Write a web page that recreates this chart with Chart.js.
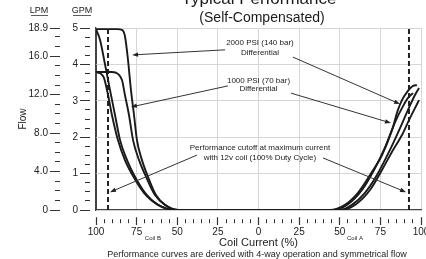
<!DOCTYPE html>
<html lang="en">
<head>
<meta charset="UTF-8">
<title>Typical Performance (Self-Compensated)</title>
<style>
  html, body { margin: 0; padding: 0; background: #ffffff; }
  #wrap { width: 426px; height: 259px; position: relative; }
</style>
</head>
<body>
<div id="wrap"><canvas id="flowChart" width="426" height="259"></canvas></div>

<script src="https://cdn.jsdelivr.net/npm/chart.js@4.4.0/dist/chart.umd.min.js"></script>
<script>
  // Coil current axis: -100 = 100% on Coil B, +100 = 100% on Coil A
  const xTickValues = [-100, -75, -50, -25, 0, 25, 50, 75, 100];
  const lpmLabelValues = [0, 4, 8, 12, 16, 18.9];
  const GPM_MAX = 5;
  const LPM_MAX = 18.93;   // 5 GPM in litres/min

  // 2000 PSI (140 bar) differential, two branches of the loop
  const psi2000aPct  = [-100, -86.8, -84.0, -82.2, -80.3, -78.5, -76.6, -74.8, -71.7, -68.0, -63.1, -57.5, -49.5,
                        44.0, 53.2, 61.2, 68.6, 76.0, 82.2, 85.8, 88.3, 91.4, 95.1, 97.5];
  const psi2000aFlow = [4.97, 4.97, 4.95, 4.78, 4.12, 3.30, 2.61, 1.92, 1.37, 0.91, 0.41, 0.14, 0,
                        0, 0.14, 0.47, 0.96, 1.51, 2.20, 2.75, 3.02, 3.24, 3.41, 3.43];
  const psi2000bPct  = [-100, -97.5, -94.5, -91.4, -88.3, -85.2, -80.9, -76.6, -69.8, -61.8, -51.4,
                        50.2, 57.5, 65.5, 72.9, 80.9, 87.1, 92.0, 96.3, 98.8];
  const psi2000bFlow = [4.97, 4.67, 4.01, 3.30, 2.61, 1.92, 1.37, 0.96, 0.47, 0.14, 0,
                        0, 0.14, 0.47, 0.96, 1.65, 2.25, 2.75, 3.16, 3.35];

  // 1000 PSI (70 bar) differential
  const psi1000aPct  = [-100, -90.2, -86.5, -84.0, -82.2, -79.7, -77.2, -73.5, -69.2, -63.7, -57.5, -49.5,
                        45.8, 55.1, 63.7, 71.1, 77.2, 80.9, 84.6, 88.3, 92.0, 95.1];
  const psi1000aFlow = [3.79, 3.79, 3.74, 3.57, 3.16, 2.61, 1.92, 1.37, 0.91, 0.41, 0.14, 0,
                        0, 0.16, 0.55, 1.10, 1.65, 2.06, 2.47, 2.80, 3.08, 3.21];
  const psi1000bPct  = [-100, -96.9, -95.1, -92.6, -90.2, -86.5, -82.2, -77.2, -70.5, -61.8, -51.4,
                        51.4, 60.0, 68.6, 76.0, 82.8, 88.3, 92.6, 96.3, 98.8];
  const psi1000bFlow = [3.79, 3.74, 3.63, 3.16, 2.61, 1.92, 1.37, 0.93, 0.47, 0.14, 0,
                        0, 0.16, 0.55, 1.10, 1.65, 2.06, 2.47, 2.80, 3.02];

  // performance cutoff with 12v coil (100% duty cycle)
  const cutoffPct = [-92.6, 92.6];

  const FONT = "'Liberation Sans', Arial, sans-serif";
  const INK = '#1a1a1a';
  const GRID = '#d6d6d6';

  const toPoints = (xs, ys) => xs.map((x, i) => ({ x: x, y: ys[i] }));

  const curveStyle = {
    showLine: true,
    borderColor: INK,
    borderWidth: 1.9,
    pointRadius: 0,
    cubicInterpolationMode: 'monotone',
    fill: false
  };
  const cutoffStyle = {
    showLine: true,
    borderColor: '#222',
    borderWidth: 2,
    borderDash: [5, 3],
    pointRadius: 0,
    fill: false
  };

  // callouts, placed in data units (coil %, GPM)
  const callouts = [
    { text: ['2000 PSI (140 bar)', 'Differential'], x: 0.9, y: [4.59, 4.31],
      arrows: [[-20.6, 4.40, -77.8, 4.26], [21.2, 4.20, 87.1, 2.91]] },
    { text: ['1000 PSI (70 bar)', 'Differential'], x: 0, y: [3.54, 3.32],
      arrows: [[-18.8, 3.41, -78.5, 2.83], [20.0, 3.21, 81.5, 2.39]] },
    { text: ['Performance cutoff at maximum current', 'with 12v coil (100% Duty Cycle)'], x: 0.9, y: [1.70, 1.43],
      arrows: [[-37.8, 1.51, -91.4, 0.49], [39.7, 1.43, 90.8, 0.49]] }
  ];

  function arrow(ctx, x1, y1, x2, y2) {
    const a = Math.atan2(y2 - y1, x2 - x1);
    ctx.beginPath();
    ctx.moveTo(x1, y1);
    ctx.lineTo(x2 - 5 * Math.cos(a), y2 - 5 * Math.sin(a));
    ctx.stroke();
    ctx.beginPath();
    ctx.moveTo(x2, y2);
    ctx.lineTo(x2 - 6 * Math.cos(a) + 2.2 * Math.sin(a), y2 - 6 * Math.sin(a) - 2.2 * Math.cos(a));
    ctx.lineTo(x2 - 6 * Math.cos(a) - 2.2 * Math.sin(a), y2 - 6 * Math.sin(a) + 2.2 * Math.cos(a));
    ctx.closePath();
    ctx.fill();
  }

  const textPlugin = {
    id: 'textPlugin',
    afterDraw(chart) {
      const ctx = chart.ctx;
      const xs = chart.scales.x, ys = chart.scales.y;
      ctx.save();
      ctx.fillStyle = INK;
      ctx.strokeStyle = '#333';
      ctx.textAlign = 'center';

      // headings
      ctx.font = '17px ' + FONT;
      ctx.textBaseline = 'alphabetic';
      ctx.fillText('Typical Performance', 259, 4);
      ctx.font = '14px ' + FONT;
      ctx.fillText('(Self-Compensated)', 262, 22);

      // unit headers
      ctx.font = '9px ' + FONT;
      ctx.fillText('LPM', 39, 13);
      ctx.fillText('GPM', 82, 13);
      ctx.lineWidth = 0.8;
      ctx.beginPath();
      ctx.moveTo(31, 15.5); ctx.lineTo(48, 15.5);
      ctx.moveTo(73, 15.5); ctx.lineTo(91, 15.5);
      ctx.stroke();

      // callouts
      ctx.font = '8px ' + FONT;
      ctx.textBaseline = 'middle';
      ctx.lineWidth = 1;
      ctx.fillStyle = '#222';
      callouts.forEach(c => {
        c.text.forEach((t, i) => ctx.fillText(t, xs.getPixelForValue(c.x), ys.getPixelForValue(c.y[i])));
        c.arrows.forEach(a => arrow(ctx,
          xs.getPixelForValue(a[0]), ys.getPixelForValue(a[1]),
          xs.getPixelForValue(a[2]), ys.getPixelForValue(a[3])));
      });

      // coil names under the axis
      ctx.font = '6px ' + FONT;
      ctx.fillText('Coil B', xs.getPixelForValue(-65), 238);
      ctx.fillText('Coil A', xs.getPixelForValue(59.4), 238);

      // footnote
      ctx.font = '9px ' + FONT;
      ctx.textBaseline = 'alphabetic';
      ctx.fillText('Performance curves are derived with 4-way operation and symmetrical flow', 257, 257);
      ctx.restore();
    }
  };

  new Chart(document.getElementById('flowChart'), {
    type: 'scatter',
    data: {
      datasets: [
        { data: toPoints(psi2000aPct, psi2000aFlow), ...curveStyle },
        { data: toPoints(psi2000bPct, psi2000bFlow), ...curveStyle },
        { data: toPoints(psi1000aPct, psi1000aFlow), ...curveStyle },
        { data: toPoints(psi1000bPct, psi1000bFlow), ...curveStyle },
        { data: [{ x: cutoffPct[0], y: 0 }, { x: cutoffPct[0], y: GPM_MAX }], ...cutoffStyle },
        { data: [{ x: cutoffPct[1], y: 0 }, { x: cutoffPct[1], y: GPM_MAX }], ...cutoffStyle }
      ]
    },
    options: {
      responsive: false,
      animation: false,
      layout: { padding: { top: 28, right: 5, left: 0, bottom: 0 } },
      plugins: { legend: { display: false }, tooltip: { enabled: false } },
      scales: {
        x: {
          type: 'linear', min: -100, max: 100,
          afterFit: s => { s.height = 49; s.paddingLeft = 0; s.paddingRight = 0; },
          ticks: {
            stepSize: 5, autoSkip: false, maxRotation: 0, padding: 1,
            color: '#222', font: { family: FONT, size: 10 },
            callback: v => (v % 25 === 0 ? String(Math.abs(v)) : '')
          },
          grid: {
            tickLength: 15,
            color: c => (c.tick && c.tick.value % 25 === 0 ? (c.tick.value === -100 ? '#444' : GRID) : 'rgba(0,0,0,0)'),
            tickColor: '#333',
            tickWidth: c => (c.tick && c.tick.value % 25 === 0 ? 1.2 : 1),
            tickBorderDash: c => (c.tick && c.tick.value % 25 === 0 ? [0, 7, 8, 20] : [0, 9, 4, 20])
          },
          border: { display: true, color: '#444', width: 1.2 },
          title: { display: true, text: 'Coil Current (%)', color: '#222',
                   font: { family: FONT, size: 11 }, padding: { top: 0, bottom: 9 } }
        },
        y: {
          type: 'linear', position: 'left', min: 0, max: GPM_MAX, weight: 0,
          afterFit: s => { s.width = 34; s.paddingTop = 0; s.paddingBottom = 0; },
          ticks: {
            stepSize: 0.25, autoSkip: false, padding: 2,
            color: '#222', font: { family: FONT, size: 10 },
            callback: v => (Number.isInteger(v) ? String(v) : '')
          },
          grid: {
            tickLength: 16,
            color: c => (c.tick && Number.isInteger(c.tick.value) && c.tick.value > 0 ? GRID : 'rgba(0,0,0,0)'),
            tickColor: '#333',
            tickBorderDash: c => (c.tick && Number.isInteger(c.tick.value) ? [10, 20] : [0, 5, 5, 20])
          },
          border: { display: true, color: '#444', width: 1.2 }
        },
        lpm: {
          type: 'linear', position: 'left', min: 0, max: LPM_MAX, weight: 1,
          afterFit: s => { s.width = 62; s.paddingTop = 0; s.paddingBottom = 0; },
          afterBuildTicks: s => {
            const t = [];
            for (let v = 0; v <= 18; v++) t.push({ value: v });
            t.push({ value: LPM_MAX });
            s.ticks = t;
          },
          ticks: {
            autoSkip: false, padding: 2,
            color: '#222', font: { family: FONT, size: 10 },
            callback: v => {
              if (v === 0) return '0';
              if (v === LPM_MAX) return '18.9';
              return lpmLabelValues.includes(v) ? v.toFixed(1) : '';
            }
          },
          grid: {
            drawOnChartArea: false,
            tickLength: 12,
            tickColor: '#333',
            tickBorderDash: c => (c.tick && (c.tick.value % 4 === 0 || c.tick.value === LPM_MAX) ? [10, 20] : [0, 5, 5, 20])
          },
          border: { display: false },
          title: { display: true, text: 'Flow', color: '#222',
                   font: { family: FONT, size: 10 }, padding: { top: 17, bottom: 0 } }
        }
      }
    },
    plugins: [textPlugin]
  });
</script>
</body>
</html>
